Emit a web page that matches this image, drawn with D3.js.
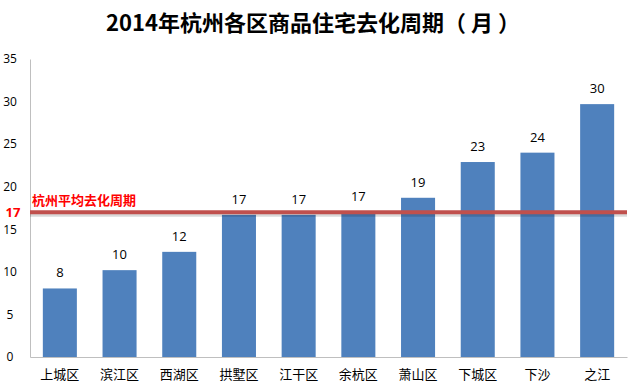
<!DOCTYPE html>
<html><head><meta charset="utf-8">
<script src="https://cdn.jsdelivr.net/npm/d3@7"></script>
<style>
body{margin:0;background:#fff;}
text{font-family:"Open Sans","Noto Sans CJK SC",sans-serif;}
</style></head>
<body>
<svg id="c" width="637" height="391"></svg>
<script>
const categories = ["上城区","滨江区","西湖区","拱墅区","江干区","余杭区","萧山区","下城区","下沙","之江"];
const values = [8.05, 10.2, 12.35, 16.7, 16.7, 17.0, 18.7, 22.9, 24.0, 29.7];
const valueLabels = ["8","10","12","17","17","17","19","23","24","30"];
const yTicks = [0,5,10,15,20,25,30,35];
const avgValue = 17;
const avgLabel = "杭州平均去化周期";
const title = "2014年杭州各区商品住宅去化周期（ 月 ）";

const svg = d3.select("#c");
const m = {l:30, r:10, t:59, b:34};
const W = 637, H = 391;
const x = d3.scaleBand().domain(categories).range([m.l, W-m.r]).paddingInner(0.43).paddingOuter(0.215);
const y = d3.scaleLinear().domain([0,35]).range([H-m.b, m.t]);

svg.append("text").attr("x",313).attr("y",31).attr("text-anchor","middle")
  .attr("font-size",22).attr("font-weight","bold").attr("fill","#000")
  .style("font-family","'Noto Sans CJK SC',sans-serif").text(title);

// y axis
const ya = svg.append("g").attr("transform",`translate(${m.l},0)`)
  .call(d3.axisLeft(y).tickValues(yTicks).tickSize(0).tickPadding(14));
ya.select(".domain").attr("stroke","#bfbfbf");
ya.selectAll("text").attr("font-size",12).attr("fill","#000").attr("text-anchor","middle").attr("dx",-6)
  .style("font-family","'Open Sans',sans-serif");

// x axis
const xa = svg.append("g").attr("transform",`translate(0,${y(0)})`)
  .call(d3.axisBottom(x).tickSize(0).tickPadding(13));
xa.select(".domain").attr("stroke","#bfbfbf");
xa.selectAll("text").attr("font-size",13).attr("fill","#000")
  .style("font-family","'Noto Sans CJK SC',sans-serif");

// bars
svg.append("g").selectAll("rect").data(categories).join("rect")
  .attr("x",d=>x(d)).attr("width",x.bandwidth())
  .attr("y",(d,i)=>y(values[i])).attr("height",(d,i)=>y(0)-y(values[i]))
  .attr("fill","#4f81bd");

// value labels
svg.append("g").selectAll("text").data(categories).join("text")
  .attr("x",d=>x(d)+x.bandwidth()/2).attr("y",(d,i)=>y(values[i])-11)
  .attr("text-anchor","middle").attr("font-size",13).attr("fill","#000")
  .text((d,i)=>valueLabels[i]);

// average line with shadow
const ay = y(avgValue);
svg.append("line").attr("x1",m.l).attr("x2",W-m.r).attr("y1",ay+3).attr("y2",ay+3)
  .attr("stroke","#000").attr("stroke-opacity",0.15).attr("stroke-width",3);
svg.append("line").attr("x1",m.l).attr("x2",W-m.r).attr("y1",ay).attr("y2",ay)
  .attr("stroke","#c0504d").attr("stroke-width",4);

svg.append("text").attr("x",32).attr("y",ay-7).attr("font-size",13).attr("font-weight","bold")
  .attr("fill","#ff0000").style("font-family","'Noto Sans CJK SC',sans-serif").text(avgLabel);
svg.append("text").attr("x",13).attr("y",ay+5).attr("text-anchor","middle").attr("font-size",13)
  .attr("font-weight","bold").attr("fill","#ff0000").text(avgValue);
</script>
</body></html>
